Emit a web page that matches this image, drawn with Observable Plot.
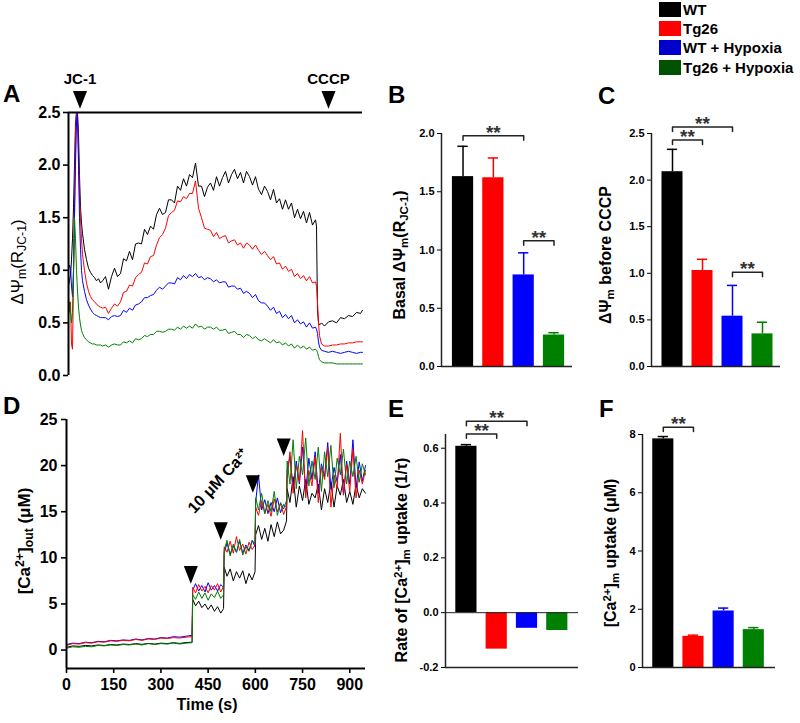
<!DOCTYPE html>
<html><head><meta charset="utf-8">
<script src="https://cdn.jsdelivr.net/npm/d3@7"></script>
<script src="https://cdn.jsdelivr.net/npm/@observablehq/plot@0.6"></script>
<style>
body{margin:0;background:#fff;}
#fig{position:relative;width:800px;height:723px;overflow:hidden;font-family:Arial,"Liberation Sans",sans-serif;color:#000;}
.panel{position:absolute;}
.panel svg{overflow:visible;}
.lbl{position:absolute;white-space:nowrap;transform:translate(-50%,-50%) rotate(-90deg);font-weight:bold;font-size:16px;line-height:1;}
.hl{position:absolute;white-space:nowrap;transform:translate(-50%,-50%);font-weight:bold;font-size:16px;line-height:1;}
.letter{position:absolute;font-weight:bold;font-size:24px;line-height:1;}
sub,sup{font-size:0.72em;line-height:0;}
sub{vertical-align:-0.28em;} sup{vertical-align:0.45em;}
.leg{position:absolute;left:659px;height:16px;display:flex;align-items:center;font-weight:bold;font-size:15px;white-space:nowrap;}
.leg span.sw{display:inline-block;width:22px;height:15px;margin-right:2px;}
.thick [aria-label*="tick"] path, .thick .tick line{stroke-width:1.6px;}
</style></head>
<body><div id="fig"></div>
<script>
// ---------- shared ----------
const groups = ["WT", "Tg26", "WT + Hypoxia", "Tg26 + Hypoxia"];
const colors = ["#000000", "#ff0000", "#0000ff", "#008000"];
const legendColors = ["#000000", "#ff0000", "#0000cc", "#005200"];

// ---------- Panel A: ΔΨm traces (time index) ----------
const tA = [0,1,2,3,4,5,6,7,8,9,10,11,12,13,14,16,18,20,22,24,26,28,30,32,34,
37,40,43,46,49,52,55,58,61,64,
67,70,73,76,79,82,85,88,91,94,
97,100,103,106,109,112,115,118,121,124,
127,130,133,136,139,142,145,148,151,154,
157,160,163,166,169,172,175,178,181,184,
187,190,193,196,199,202,205,208,211,214,
217,220,223,226,229,232,235,238,241,244,
247,
248,249,250,251,253,256,260,264,268,272,276,280,284,288,292,294];
const wtA = [0.85,0.9,0.95,1.1,1.3,1.6,2.0,2.4,2.5,2.48,2.3,1.9,1.6,1.45,1.35,1.2,1.1,1.02,0.98,0.95,0.93,0.9,0.92,0.88,0.9,
0.94,0.82,0.94,1.02,0.94,0.97,1.11,1.09,1.18,1.10,
1.25,1.26,1.25,1.39,1.34,1.42,1.39,1.53,1.59,1.53,
1.55,1.67,1.67,1.64,1.80,1.76,1.87,1.80,1.91,1.88,
2.02,1.80,1.80,1.70,1.79,1.83,1.76,1.89,1.80,1.88,
1.94,1.83,1.91,1.96,1.87,1.93,1.83,1.94,1.89,1.81,
1.89,1.77,1.72,1.80,1.75,1.67,1.77,1.64,1.68,1.58,
1.67,1.58,1.64,1.50,1.58,1.49,1.56,1.45,1.55,1.43,
1.48,
1.42,0.62,0.5,0.48,0.5,0.47,0.51,0.52,0.5,0.55,0.54,0.57,0.56,0.6,0.59,0.62];
const tg26A = [0.75,0.6,0.7,0.3,0.25,0.9,1.6,2.3,2.5,2.45,2.1,1.7,1.5,1.3,1.15,1.0,0.88,0.8,0.75,0.72,0.7,0.68,0.66,0.65,0.64,
0.65,0.59,0.64,0.68,0.66,0.70,0.79,0.80,0.86,0.85,
0.93,0.96,0.98,1.07,1.06,1.13,1.14,1.24,1.31,1.34,
1.40,1.52,1.55,1.57,1.66,1.65,1.70,1.68,1.73,1.73,
1.85,1.59,1.50,1.40,1.39,1.38,1.32,1.36,1.30,1.32,
1.33,1.26,1.28,1.29,1.24,1.26,1.21,1.26,1.24,1.20,
1.24,1.19,1.15,1.18,1.14,1.10,1.13,1.06,1.07,1.01,
1.04,0.99,1.01,0.94,0.97,0.92,0.95,0.90,0.94,0.88,
0.89,
0.85,0.7,0.5,0.38,0.3,0.28,0.28,0.29,0.29,0.3,0.3,0.31,0.31,0.32,0.32,0.32];
const wtHypA = [1.0,1.05,1.02,0.85,0.75,1.0,1.5,2.0,2.4,2.5,2.0,1.5,1.2,1.0,0.9,0.8,0.72,0.67,0.63,0.6,0.58,0.57,0.56,0.55,0.55,
0.55,0.53,0.56,0.57,0.56,0.57,0.62,0.60,0.64,0.62,
0.67,0.68,0.70,0.74,0.74,0.76,0.77,0.81,0.84,0.82,
0.85,0.88,0.88,0.87,0.93,0.91,0.95,0.92,0.96,0.94,
0.97,0.93,0.94,0.91,0.93,0.92,0.89,0.91,0.88,0.89,
0.89,0.84,0.85,0.85,0.82,0.83,0.78,0.80,0.78,0.74,
0.77,0.71,0.69,0.69,0.66,0.62,0.65,0.59,0.61,0.55,
0.58,0.54,0.57,0.50,0.53,0.49,0.51,0.46,0.50,0.45,
0.46,
0.44,0.4,0.32,0.27,0.24,0.23,0.22,0.23,0.22,0.21,0.22,0.23,0.22,0.21,0.22,0.22];
const tg26HypA = [0.55,0.7,0.6,0.5,0.6,1.0,1.5,1.3,1.0,0.8,0.65,0.55,0.48,0.43,0.4,0.36,0.34,0.32,0.31,0.3,0.3,0.29,0.29,0.29,0.28,
0.29,0.27,0.29,0.30,0.29,0.29,0.32,0.31,0.33,0.31,
0.35,0.34,0.35,0.38,0.37,0.39,0.39,0.42,0.42,0.41,
0.42,0.44,0.44,0.43,0.46,0.44,0.47,0.45,0.47,0.45,
0.49,0.46,0.47,0.44,0.46,0.46,0.44,0.46,0.43,0.43,
0.44,0.40,0.41,0.42,0.39,0.39,0.36,0.39,0.38,0.35,
0.37,0.34,0.33,0.35,0.33,0.31,0.34,0.31,0.32,0.29,
0.31,0.28,0.30,0.26,0.29,0.26,0.28,0.25,0.27,0.24,
0.25,
0.24,0.22,0.18,0.15,0.13,0.12,0.12,0.12,0.11,0.11,0.11,0.11,0.11,0.11,0.11,0.11];
const ticksA = [0, 0.5, 1, 1.5, 2, 2.5];
const eventsA = [{label: "JC-1", t: 11.5, y: 2.62}, {label: "CCCP", t: 260, y: 2.62}];

// ---------- Panel D: [Ca2+]out traces ----------
const tD = [0,20,40,60,80,100,120,140,160,180,200,220,240,260,280,300,320,340,360,380,399,
401,410,420,430,440,450,460,470,480,490,499,
501,510,520,530,540,550,560,570,580,590,599,
601,610,620,630,640,650,660,670,680,690,699,
701,710,720,730,740,750,760,770,780,790,800,810,820,830,840,850,860,870,880,890,900,910,920,930,940,950];
const wtD = [0.3,0.45,0.4,0.5,0.45,0.55,0.5,0.6,0.55,0.65,0.6,0.7,0.62,0.72,0.65,0.75,0.7,0.8,0.72,0.82,0.85,
5.5,4.8,5.3,4.6,5.0,4.4,4.9,4.2,4.7,4.0,4.5,
9.0,8.0,8.8,7.5,8.5,7.8,8.6,7.2,8.3,7.6,8.5,
12.5,13.5,12.0,13.2,11.8,13.6,12.3,13.9,12.6,13.0,14.0,
17.5,16.0,18.8,15.5,17.8,16.2,18.5,15.8,17.0,16.5,18.0,15.2,17.5,16.0,18.2,15.5,17.8,16.8,18.5,16.0,17.2,15.8,18.0,16.5,17.5,17.0];
const wtHypD = [0.6,0.75,0.7,0.85,0.8,0.95,0.9,1.05,1.0,1.1,1.05,1.2,1.1,1.25,1.2,1.35,1.3,1.45,1.4,1.5,1.6,
6.5,7.2,6.4,7.0,6.3,7.3,6.5,7.0,6.4,7.1,6.8,
10.5,11.6,10.4,11.3,10.6,11.8,10.5,11.4,10.8,11.9,11.2,
16.0,19.0,15.2,16.3,14.8,16.0,15.0,16.5,14.9,15.8,15.5,
19.5,21.0,17.5,20.5,18.0,22.0,17.2,20.8,18.5,21.5,17.0,20.2,18.8,22.5,17.5,19.8,18.2,21.2,16.8,20.5,18.0,22.8,17.6,20.4,18.3,20.0];
const tg26D = [0.5,0.7,0.65,0.8,0.75,0.9,0.85,1.0,0.95,1.05,1.0,1.15,1.05,1.2,1.15,1.3,1.25,1.35,1.3,1.4,1.45,
6.8,6.2,7.1,6.4,6.9,6.2,7.0,6.5,7.2,6.3,6.9,
11.2,10.6,11.8,10.5,12.3,10.8,11.5,10.4,11.7,10.9,11.4,
15.5,14.6,16.2,14.8,15.8,14.5,16.4,15.0,15.9,14.7,15.6,
18.5,21.5,17.0,20.0,18.2,23.8,16.5,19.5,17.8,21.0,16.0,19.8,18.5,22.0,15.5,19.0,17.5,23.5,16.8,20.2,17.2,21.8,16.5,19.5,18.0,19.5];
const tg26HypD = [0.2,0.35,0.3,0.4,0.35,0.5,0.45,0.55,0.5,0.6,0.55,0.65,0.55,0.7,0.6,0.7,0.65,0.75,0.65,0.75,0.8,
6.0,5.5,6.3,5.6,6.2,5.4,6.1,5.7,6.4,5.6,6.0,
10.8,11.9,10.2,11.5,10.6,12.0,10.3,11.2,10.7,11.8,11.6,
16.5,15.2,17.0,14.8,16.2,15.0,17.2,14.6,16.0,15.3,16.2,
20.5,18.0,22.8,17.5,21.0,19.0,23.0,17.8,20.5,18.5,22.0,17.2,21.5,18.8,22.2,17.6,20.8,19.0,21.8,18.0,20.5,18.8,21.0,18.2,20.2,19.0];
const ticksDx = [0, 150, 300, 450, 600, 750, 900];
const ticksDy = [0, 5, 10, 15, 20, 25];
const eventsD = [{t: 395, y: 8.15}, {t: 490, y: 12.9}, {t: 592, y: 18.0}, {t: 690, y: 22.0}];
const noteD = [{t: 482, y: 18.3, text: "10 μM Ca²⁺"}];

// ---------- Bar panels ----------
const basalB = [1.63, 1.62, 0.786, 0.27];
const basalBErr = [0.26, 0.17, 0.19, 0.02];
const sigB = [{a: 0, b: 2, y: 1.98}, {a: 2, b: 3, y: 1.08}];
const ticksB = [0, 0.5, 1, 1.5, 2];

const cccpC = [2.09, 1.03, 0.54, 0.35];
const cccpCErr = [0.24, 0.12, 0.33, 0.125];
const sigC = [{a: 0, b: 1, y: 2.43}, {a: 0, b: 2, y: 2.57}, {a: 2, b: 3, y: 1.01}];
const ticksC = [0, 0.5, 1, 1.5, 2, 2.5];

const rateE = [0.607, -0.133, -0.057, -0.065];
const rateEErr = [0.006, 0, 0, 0];
const sigE = [{a: 0, b: 1, y: 0.652}, {a: 0, b: 2, y: 0.698}];
const ticksE = [-0.2, 0, 0.2, 0.4, 0.6];

const uptakeF = [7.85, 1.07, 1.94, 1.30];
const uptakeFErr = [0.08, 0.04, 0.1, 0.07];
const sigF = [{a: 0, b: 1, y: 8.25}];
const ticksF = [0, 2, 4, 6, 8];

// ---------- helpers ----------
const fontFam = 'Arial, "Liberation Sans", sans-serif';
function check(name, arr, t) { if (arr.length !== t.length) throw new Error(name + " length " + arr.length + " vs " + t.length); }
[["wtA", wtA], ["tg26A", tg26A], ["wtHypA", wtHypA], ["tg26HypA", tg26HypA]].forEach(([n, a]) => check(n, a, tA));
[["wtD", wtD], ["wtHypD", wtHypD], ["tg26D", tg26D], ["tg26HypD", tg26HypD]].forEach(([n, a]) => check(n, a, tD));

const arrowDown = {draw(ctx, size) {
  const h = Math.sqrt(size);
  ctx.moveTo(-0.44 * h, -0.55 * h); ctx.lineTo(0.44 * h, -0.55 * h); ctx.lineTo(0, 0.55 * h); ctx.closePath();
}};

const fig = document.getElementById("fig");
function place(node, left, top, w, h, cls) {
  const d = document.createElement("div");
  d.className = "panel" + (cls ? " " + cls : "");
  d.style.left = left + "px"; d.style.top = top + "px"; d.style.width = w + "px"; d.style.height = h + "px";
  d.appendChild(node); fig.appendChild(d);
}
function html(cls, left, top, inner, extra) {
  const d = document.createElement("div");
  d.className = cls; d.style.left = left + "px"; d.style.top = top + "px"; d.innerHTML = inner;
  if (extra) Object.assign(d.style, extra);
  fig.appendChild(d);
}

// ---------- Panel A ----------
const traceA = [];
[["WT", wtA], ["Tg26", tg26A], ["WT + Hypoxia", wtHypA], ["Tg26 + Hypoxia", tg26HypA]]
  .forEach(([g, vals]) => vals.forEach((v, i) => traceA.push({g, t: tA[i], v})));
const plotA = Plot.plot({
  width: 370, height: 330, marginLeft: 68, marginRight: 8, marginTop: 52, marginBottom: 15,
  x: {domain: [0, 294], axis: null},
  y: {domain: [0, 2.5], ticks: ticksA, tickFormat: d => d.toFixed(1), tickSize: 5, tickPadding: 3, label: null},
  color: {domain: groups, range: colors},
  style: {fontFamily: fontFam, fontWeight: "bold", fontSize: "16px", background: "transparent", overflow: "visible"},
  marks: [
    Plot.line(traceA, {x: "t", y: "v", z: "g", stroke: "g", strokeWidth: 1}),
    Plot.ruleX([0], {stroke: "#000", strokeWidth: 2}),
    Plot.ruleY([2.5], {stroke: "#000", strokeWidth: 2}),
    Plot.dot(eventsA, {x: "t", y: "y", symbol: arrowDown, r: 9, fill: "#000", stroke: "none"}),
    Plot.text(eventsA, {x: "t", y: "y", text: "label", dy: -21, fontSize: 15, fontWeight: "bold"})
  ]
});
place(plotA, 0, 60, 370, 330, "thick");

// ---------- Panel D ----------
const traceD = [];
[["WT", wtD], ["WT + Hypoxia", wtHypD], ["Tg26", tg26D], ["Tg26 + Hypoxia", tg26HypD]]
  .forEach(([g, vals]) => vals.forEach((v, i) => traceD.push({g, t: tD[i], v})));
const plotD = Plot.plot({
  width: 370, height: 323, marginLeft: 66, marginRight: 5, marginTop: 19, marginBottom: 55,
  x: {domain: [0, 950], ticks: ticksDx, tickFormat: d => String(d), tickSize: 5, tickPadding: 5, label: null},
  y: {domain: [-2, 25], ticks: ticksDy, tickFormat: d => String(d), tickSize: 5, tickPadding: 4, label: null},
  color: {domain: groups, range: colors},
  style: {fontFamily: fontFam, fontWeight: "bold", fontSize: "16px", background: "transparent", overflow: "visible"},
  marks: [
    Plot.line(traceD, {x: "t", y: "v", z: "g", stroke: "g", strokeWidth: 1}),
    Plot.ruleX([0], {stroke: "#000", strokeWidth: 2}),
    Plot.ruleY([-2], {stroke: "#000", strokeWidth: 2}),
    Plot.dot(eventsD, {x: "t", y: "y", symbol: arrowDown, r: 9, fill: "#000", stroke: "none"}),
    Plot.text(noteD, {x: "t", y: "y", text: "text", rotate: -47, fontSize: 16, fontWeight: "bold"})
  ]
});
place(plotD, 0, 400, 370, 323, "thick");

// ---------- bar panel factory ----------
function barPanel({vals, errs, sig, yDomain, yTicks, fmt, xDomain, width, height, ml, mr, mt, mb, drop, zeroLine}) {
  const data = groups.map((g, i) => ({g, i, v: vals[i], e: errs[i]}));
  const withErr = data.filter(d => d.e > 0);
  const hw = 0.35, cw = 0.17;
  const brackets = [];
  sig.forEach((s, k) => {
    brackets.push({k, x: s.a, y: s.y - drop}, {k, x: s.a, y: s.y}, {k, x: s.b, y: s.y}, {k, x: s.b, y: s.y - drop});
  });
  const marks = [
    Plot.rect(data, {x1: d => d.i - hw, x2: d => d.i + hw, y1: () => 0, y2: "v", fill: "g"}),
    Plot.ruleX(withErr, {x: "i", y1: "v", y2: d => d.v + d.e, stroke: "g", strokeWidth: 1.5}),
    Plot.ruleY(withErr, {y: d => d.v + d.e, x1: d => d.i - cw, x2: d => d.i + cw, stroke: "g", strokeWidth: 1.5}),
    Plot.ruleX([xDomain[0]], {stroke: "#222", strokeWidth: 1.5}),
    Plot.ruleY([yDomain[0]], {stroke: "#222", strokeWidth: 1.5}),
    Plot.line(brackets, {x: "x", y: "y", z: "k", stroke: "#222", strokeWidth: 1.5}),
    Plot.text(sig, {x: d => (d.a + d.b) / 2, y: "y", text: () => "**", fontSize: 19, fontWeight: "bold", fill: "#333", dy: -3})
  ];
  if (zeroLine) marks.push(Plot.ruleY([0], {stroke: "#222", strokeWidth: 1}));
  return Plot.plot({
    width, height, marginLeft: ml, marginRight: mr, marginTop: mt, marginBottom: mb,
    x: {domain: xDomain, axis: null},
    y: {domain: yDomain, ticks: yTicks, tickFormat: fmt, tickSize: 4, tickPadding: 3, label: null},
    color: {domain: groups, range: colors},
    style: {fontFamily: fontFam, fontWeight: "bold", fontSize: "11px", background: "transparent", overflow: "visible"},
    marks
  });
}
const f1 = d => d.toFixed(1);
place(barPanel({vals: basalB, errs: basalBErr, sig: sigB, yDomain: [0, 2], yTicks: ticksB, fmt: f1,
  xDomain: [-0.71, 3.61], width: 200, height: 280, ml: 61, mr: 8, mt: 33, mb: 14, drop: 0.039}), 380, 100, 200, 280);
place(barPanel({vals: cccpC, errs: cccpCErr, sig: sigC, yDomain: [0, 2.5], yTicks: ticksC, fmt: f1,
  xDomain: [-0.7, 3.6], width: 220, height: 280, ml: 71, mr: 20, mt: 33, mb: 14, drop: 0.048}), 580, 100, 220, 280);
place(barPanel({vals: rateE, errs: rateEErr, sig: sigE, yDomain: [-0.2, 0.65], yTicks: ticksE, fmt: f1,
  xDomain: [-0.69, 3.7], width: 200, height: 300, ml: 65, mr: 2, mt: 34, mb: 33, drop: 0.016, zeroLine: true}), 380, 400, 200, 300);
place(barPanel({vals: uptakeF, errs: uptakeFErr, sig: sigF, yDomain: [0, 8], yTicks: ticksF, fmt: d => String(d),
  xDomain: [-0.69, 3.72], width: 200, height: 300, ml: 62, mr: 5, mt: 34, mb: 33, drop: 0.15}), 580, 400, 200, 300);

// ---------- text: letters, axis titles, legend ----------
[["A", 3, 82], ["B", 388, 83], ["C", 598, 84], ["D", 3, 394], ["E", 388, 397], ["F", 599, 397]]
  .forEach(([t, x, y]) => html("letter", x, y, t));

html("lbl", 17, 262, "ΔΨ<sub>m</sub>(R<sub>JC-1</sub>)", {fontWeight: "normal", fontSize: "17px"});
html("lbl", 400, 255, "Basal ΔΨ<sub>m</sub>(R<sub>JC-1</sub>)");
html("lbl", 606, 255, "ΔΨ<sub>m</sub> before CCCP");
html("lbl", 24, 541, "[Ca<sup>2+</sup>]<sub>out</sub> (μM)", {fontSize: "17px"});
html("lbl", 402, 560, "Rate of [Ca<sup>2+</sup>]<sub>m</sub> uptake (1/τ)");
html("lbl", 611, 553, "[Ca<sup>2+</sup>]<sub>m</sub> uptake (μM)");
html("hl", 207, 705, "Time (s)");

const legTops = [1, 20, 39, 59];
groups.forEach((g, i) => {
  html("leg", 659, legTops[i], '<span class="sw" style="background:' + legendColors[i] + '"></span>' + g);
});
</script>
</body></html>
